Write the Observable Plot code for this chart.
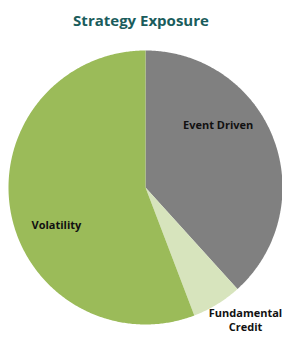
<!DOCTYPE html>
<html>
<head>
<meta charset="utf-8">
<script src="https://cdn.jsdelivr.net/npm/d3@7"></script>
<script src="https://cdn.jsdelivr.net/npm/@observablehq/plot@0.6"></script>
<style>
  html, body { margin: 0; padding: 0; background: #fff; overflow: hidden; }
  #title { font-family: "Open Sans", sans-serif; font-weight: bold; font-size: 15px; color: #1a5c5c; text-align: center; height: 38px; line-height: 41px; width: 282px; }
  svg { overflow: visible; }
</style>
</head>
<body>
<div id="title">Strategy Exposure</div>
<div id="chart"></div>
<script>
const categories = ["Event Driven", "Fundamental Credit", "Volatility"];
const values = [38.3, 5.9, 55.8];
const colors = ["#808080", "#d7e4bd", "#9bbb59"];
const labelLines = [["Event Driven"], ["Fundamental", "Credit"], ["Volatility"]];
// label anchor positions in unit-circle coordinates (layout only)
const labelPos = [[0.53, 0.46], [0.73, -0.965], [-0.65, -0.27]];

const pie = d3.pie().sort(null).value(d => d.value);
const arcs = pie(categories.map((c, i) => ({category: c, value: values[i]})));

// polygon points per slice on the unit circle
const pts = [];
arcs.forEach(a => {
  const c = a.data.category;
  pts.push({category: c, x: 0, y: 0});
  const n = Math.max(4, Math.ceil((a.endAngle - a.startAngle) / 0.01));
  for (let k = 0; k <= n; k++) {
    const t = a.startAngle + (a.endAngle - a.startAngle) * k / n;
    pts.push({category: c, x: Math.sin(t), y: Math.cos(t)});
  }
  pts.push({category: c, x: 0, y: 0});
});

const labels = [];
categories.forEach((c, i) => {
  labels.push({text: labelLines[i].join("\n"), x: labelPos[i][0], y: labelPos[i][1]});
});

const chart = Plot.plot({
  width: 282,
  height: 299,
  marginLeft: 8,
  marginRight: 0,
  marginTop: 12,
  marginBottom: 13,
  x: {domain: [-1, 1], axis: null},
  y: {domain: [-1, 1], axis: null},
  color: {domain: categories, range: colors},
  style: {fontFamily: "'Open Sans', sans-serif", background: "white", overflow: "visible"},
  marks: [
    Plot.line(pts, {x: "x", y: "y", z: "category", fill: "category", stroke: "none", curve: "linear"}),
    Plot.text(labels, {x: "x", y: "y", text: "text", fontWeight: "bold", fontSize: 11, fill: "#111", lineHeight: 1.25})
  ]
});
document.getElementById("chart").appendChild(chart);
</script>
</body>
</html>
